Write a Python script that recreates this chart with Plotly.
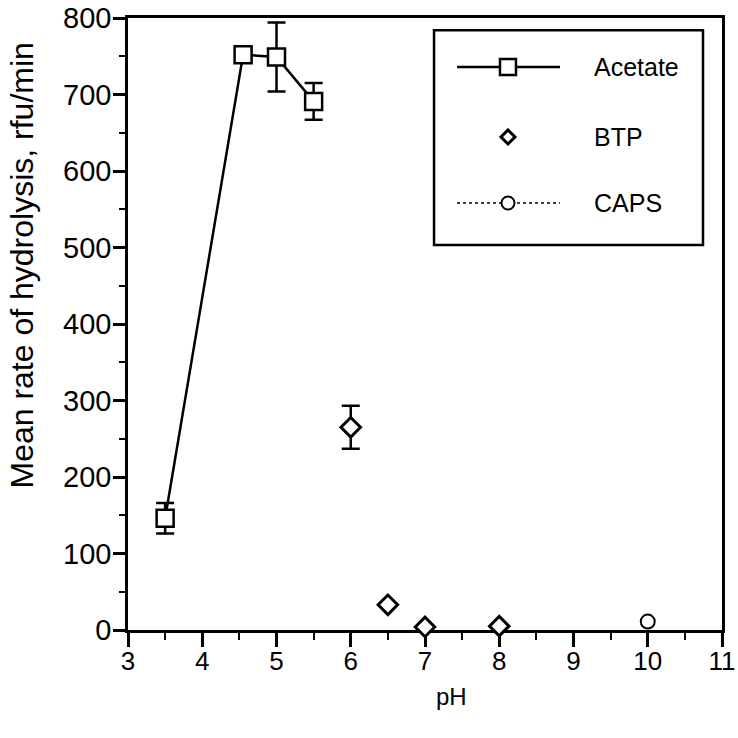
import plotly.graph_objects as go

# ---- data ----
ph_acetate = [3.5, 4.55, 5.0, 5.5]
rate_acetate = [146, 752, 749, 691]
err_acetate = [20, 0, 45, 24]

ph_btp = [6.0, 6.5, 7.0, 8.0]
rate_btp = [265, 33, 4, 5]
err_btp = [28, 0, 0, 0]

ph_caps = [10.0]
rate_caps = [11]

x_ticks = [3, 4, 5, 6, 7, 8, 9, 10, 11]
y_ticks = [0, 100, 200, 300, 400, 500, 600, 700, 800]

series_names = ["Acetate", "BTP", "CAPS"]

FONT = "Liberation Sans, Arial, sans-serif"

fig = go.Figure()

fig.add_trace(go.Scatter(
    x=ph_acetate, y=rate_acetate, name=series_names[0], mode="lines+markers",
    line=dict(color="black", width=2.5),
    marker=dict(symbol="square", size=17, color="white",
                line=dict(color="black", width=2.5)),
    error_y=dict(type="data", array=err_acetate, visible=True,
                 color="black", thickness=2.5, width=9),
    cliponaxis=False, showlegend=False,
))
fig.add_trace(go.Scatter(
    x=ph_btp, y=rate_btp, name=series_names[1], mode="markers",
    marker=dict(symbol="diamond", size=15, color="white",
                line=dict(color="black", width=3)),
    error_y=dict(type="data", array=err_btp, visible=True,
                 color="black", thickness=2.5, width=9),
    cliponaxis=False, showlegend=False,
))
fig.add_trace(go.Scatter(
    x=ph_caps, y=rate_caps, name=series_names[2], mode="lines+markers",
    line=dict(color="black", width=1.5, dash="dot"),
    marker=dict(symbol="circle", size=14, color="white",
                line=dict(color="black", width=2)),
    cliponaxis=False, showlegend=False,
))

# ---- legend box drawn in paper coordinates ----
LX0, LX1, LY0, LY1 = 0.5152, 0.968, 0.629, 0.980
row_y = [0.920, 0.8056, 0.6977]
line_x0, line_x1, mark_x, text_x = 0.5539, 0.7273, 0.6397, 0.7811

shapes = [dict(type="rect", xref="paper", yref="paper", x0=LX0, x1=LX1,
               y0=LY0, y1=LY1, line=dict(color="black", width=2.5),
               fillcolor="white", layer="above")]
# Acetate sample: solid line + square
shapes.append(dict(type="line", xref="paper", yref="paper", x0=line_x0,
                   x1=line_x1, y0=row_y[0], y1=row_y[0],
                   line=dict(color="black", width=2.5), layer="above"))
shapes.append(dict(type="rect", xref="paper", yref="paper",
                   xsizemode="pixel", ysizemode="pixel",
                   xanchor=mark_x, yanchor=row_y[0],
                   x0=-8, x1=8, y0=-8, y1=8,
                   line=dict(color="black", width=2.5), fillcolor="white",
                   layer="above"))
# BTP sample: diamond
shapes.append(dict(type="path", xref="paper", yref="paper",
                   xsizemode="pixel", ysizemode="pixel",
                   xanchor=mark_x, yanchor=row_y[1],
                   path="M0,7 L7,0 L0,-7 L-7,0 Z",
                   line=dict(color="black", width=3), fillcolor="white",
                   layer="above"))
# CAPS sample: dotted line + circle
shapes.append(dict(type="line", xref="paper", yref="paper", x0=line_x0,
                   x1=line_x1, y0=row_y[2], y1=row_y[2],
                   line=dict(color="black", width=1.5, dash="dot"),
                   layer="above"))
shapes.append(dict(type="circle", xref="paper", yref="paper",
                   xsizemode="pixel", ysizemode="pixel",
                   xanchor=mark_x, yanchor=row_y[2],
                   x0=-6.5, x1=6.5, y0=-6.5, y1=6.5,
                   line=dict(color="black", width=2), fillcolor="white",
                   layer="above"))

annotations = [dict(
    text=name, xref="paper", yref="paper", x=text_x, y=yy,
    xanchor="left", yanchor="middle", showarrow=False,
    font=dict(size=25, family=FONT, color="black"))
    for name, yy in zip(series_names, row_y)]

annotations.append(dict(
    text="Mean rate of hydrolysis, rfu/min", textangle=-90,
    xref="paper", yref="paper", x=-0.178, y=0.596, xanchor="center",
    yanchor="middle", showarrow=False,
    font=dict(size=32, family=FONT, color="black"),
))
annotations.append(dict(
    text="pH", xref="paper", yref="paper", x=0.545, y=-0.108,
    xanchor="center", yanchor="middle", showarrow=False,
    font=dict(size=24, family=FONT, color="black"),
))

fig.update_layout(
    width=738, height=738,
    margin=dict(l=128, r=16, t=18, b=108),
    paper_bgcolor="white", plot_bgcolor="white",
    font=dict(family=FONT, color="black"),
    showlegend=False,
    shapes=shapes,
    annotations=annotations,
    xaxis=dict(
        range=[3, 11], tickvals=x_ticks, ticktext=[str(v) for v in x_ticks],
        ticks="outside", ticklen=14, tickwidth=2.5, tickcolor="black",
        showline=True, linecolor="black", linewidth=2.5, mirror=True,
        showgrid=False, zeroline=False, layer="below traces",
        tickfont=dict(size=26, family=FONT), automargin=False,
        ticklabeloverflow="allow", ticklabelstandoff=-8,
        minor=dict(dtick=0.5, ticks="outside", ticklen=7, tickwidth=2,
                   tickcolor="black", showgrid=False),
        title=dict(text=""),
    ),
    yaxis=dict(
        range=[0, 800], tickvals=y_ticks, ticktext=[str(v) for v in y_ticks],
        ticks="outside", ticklen=12, tickwidth=2.5, tickcolor="black",
        showline=True, linecolor="black", linewidth=2.5, mirror=True,
        showgrid=False, zeroline=False, layer="below traces",
        tickfont=dict(size=29, family=FONT), automargin=False,
        ticklabeloverflow="allow", ticklabelstandoff=-4,
        minor=dict(dtick=50, ticks="outside", ticklen=6, tickwidth=2,
                   tickcolor="black", showgrid=False),
        title=dict(text=""),
    ),
)

fig.write_html("out.html")
